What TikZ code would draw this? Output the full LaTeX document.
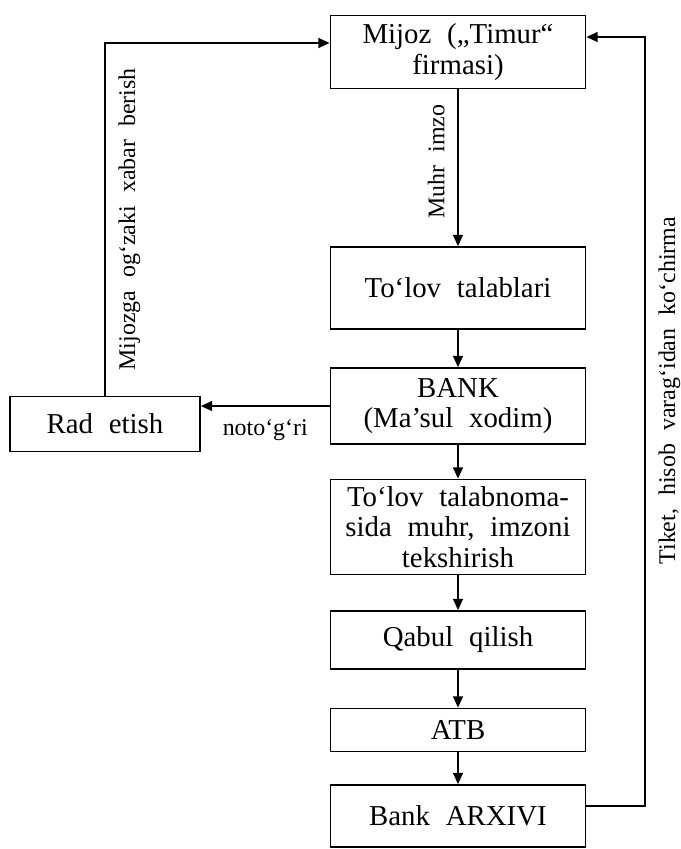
\documentclass[tikz,border=0pt]{standalone}
\usepackage{fontspec}
\setmainfont{Liberation Serif}[WordSpace=2.2]
\usetikzlibrary{
  arrows.meta,
  positioning
}

\begin{document}
\begin{tikzpicture}[
    x=0.025cm, y=-0.025cm,
    quti/.style={
    draw,
    line width=1.2pt,
    minimum width=6.375cm,
    inner sep=1pt,
    align=center,
    font=\fontsize{20.5}{21.5}\selectfont
    },
    strelka/.style={-{Triangle[length=8pt,width=7pt]},line width=1.2pt},
    yozuv/.style={font=\fontsize{17}{19}\selectfont,inner sep=2pt,inner ysep=9pt}
    ]

    \useasboundingbox (0,0) rectangle (681,849);

    \node[quti,minimum height=1.825cm] (mijoz) at (458,52)
    {Mijoz („Timur“\\firmasi)};

    \node[quti,minimum height=2.05cm] (tolov) at (458,288)
    {To‘lov talablari};

    \node[quti,minimum height=1.9cm] (bank) at (458,406)
    {BANK\\(Ma’sul xodim)};

    \node[quti,minimum width=4.75cm,minimum height=1.375cm] (rad) at (105,424)
    {Rad etish};

    \node[quti,minimum height=2.375cm] (tekshir) at (458,527)
    {To‘lov talabnoma-\\sida muhr, imzoni\\tekshirish};

    \node[quti,minimum height=1.45cm] (qabul) at (458,640)
    {Qabul qilish};

    \node[quti,minimum height=1.075cm] (atb) at (458,730)
    {ATB};

    \node[quti,minimum height=1.55cm] (arxiv) at (458,816)
    {Bank ARXIVI};

    \coordinate (burchak) at (645,37);

    \draw[strelka] (mijoz) -- (tolov)
    node[yozuv,pos=.46,rotate=90,anchor=south] (muhr) {Muhr imzo};
    \draw[strelka] (tolov) -- (bank);
    \draw[strelka] (bank) -- (tekshir);
    \draw[strelka] (tekshir) -- (qabul);
    \draw[strelka] (qabul) -- (atb);
    \draw[strelka] (atb) -- (arxiv);

    \draw[strelka] (bank.west) -- (bank.west -| rad.east)
    node[yozuv,midway,below] (notogri) {noto‘g‘ri};

    \draw[strelka] (rad.north) |- ([yshift=.225cm]mijoz.west)
    node[yozuv,pos=.25,rotate=90,anchor=north] (xabar) {Mijozga og‘zaki xabar berish};

    \draw[strelka] ([yshift=.25cm]arxiv.east) -| (burchak)
    node[yozuv,pos=.77,rotate=90,anchor=north] (tiket) {Tiket, hisob varag‘idan ko‘chirma}
    -- (mijoz.east |- burchak);

\end{tikzpicture}
\end{document}
